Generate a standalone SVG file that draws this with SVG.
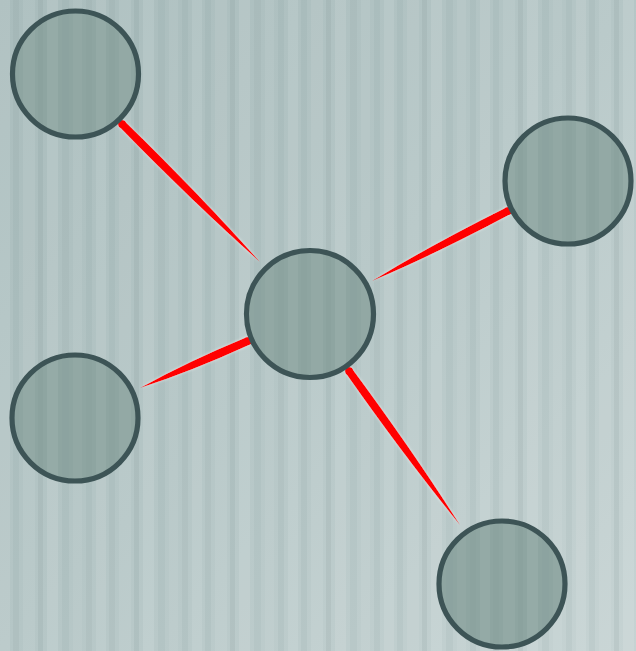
<svg xmlns="http://www.w3.org/2000/svg" width="636" height="651" viewBox="0 0 636 651">
<defs>
<linearGradient id="bg" x1="0" y1="0" x2="1" y2="1">
<stop offset="0" stop-color="#a9bcbc"/>
<stop offset="0.5" stop-color="#b5c6c6"/>
<stop offset="1" stop-color="#c6d3d3"/>
</linearGradient>
<pattern id="stripes" x="0" y="0" width="96" height="651" patternUnits="userSpaceOnUse">
<rect x="0" y="0" width="10" height="651" fill="#ffffff" opacity="0.09"/>
<rect x="13" y="0" width="6" height="651" fill="#5f7a7a" opacity="0.08"/>
<rect x="23" y="0" width="12" height="651" fill="#ffffff" opacity="0.07"/>
<rect x="38" y="0" width="5" height="651" fill="#5f7a7a" opacity="0.10"/>
<rect x="47" y="0" width="11" height="651" fill="#ffffff" opacity="0.10"/>
<rect x="62" y="0" width="7" height="651" fill="#5f7a7a" opacity="0.07"/>
<rect x="73" y="0" width="9" height="651" fill="#ffffff" opacity="0.06"/>
<rect x="86" y="0" width="6" height="651" fill="#5f7a7a" opacity="0.08"/>
</pattern>
<filter id="halo" x="-20%" y="-20%" width="140%" height="140%">
<feGaussianBlur in="SourceAlpha" stdDeviation="1.5" result="b"/>
<feFlood flood-color="#ffffff" flood-opacity="0.6"/>
<feComposite in2="b" operator="in" result="g"/>
<feMerge><feMergeNode in="g"/><feMergeNode in="SourceGraphic"/></feMerge>
</filter>
<style>
.node circle.b{fill:#8ea5a1;stroke:#3d5456;stroke-width:5.2}
.node circle.s{fill:url(#stripes);opacity:0.6}
.edge{fill:#ff0000;filter:url(#halo)}
</style>
</defs>
<rect width="636" height="651" fill="url(#bg)"/>
<rect width="636" height="651" fill="url(#stripes)"/>
<g id="connectors">
<g class="edge">
<path d="M119.2,126.8 Q194.2,203.6 260,262 Q201.6,196.2 124.8,121.2 Z"/><circle cx="122" cy="124" r="4"/>
</g>
<g class="edge">
<path d="M506.2,207.4 Q430.8,244.9 372,281 Q435.6,254.1 509.8,214.6 Z"/><circle cx="508" cy="211" r="4"/>
</g>
<g class="edge">
<path d="M246.4,337.3 Q186.5,362.1 140,388 Q190.7,371.6 249.6,344.7 Z"/><circle cx="248" cy="341" r="4"/>
</g>
<g class="edge">
<path d="M345.8,373.3 Q405.8,458.7 460,525 Q414.3,452.7 352.2,368.7 Z"/><circle cx="349" cy="371" r="4"/>
</g>
</g>
<g id="node-top-left" class="node"><circle class="b" cx="75.5" cy="74" r="63"/><circle class="s" cx="75.5" cy="74" r="60"/></g>
<g id="node-center" class="node"><circle class="b" cx="310" cy="314" r="63.5"/><circle class="s" cx="310" cy="314" r="61"/></g>
<g id="node-right" class="node"><circle class="b" cx="568" cy="181" r="63"/><circle class="s" cx="568" cy="181" r="60"/></g>
<g id="node-bottom-left" class="node"><circle class="b" cx="75" cy="418" r="63"/><circle class="s" cx="75" cy="418" r="60"/></g>
<g id="node-bottom" class="node"><circle class="b" cx="502" cy="584" r="63"/><circle class="s" cx="502" cy="584" r="60"/></g>
</svg>
